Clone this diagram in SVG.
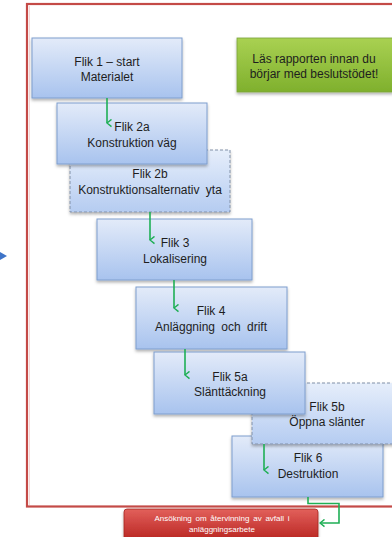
<svg xmlns="http://www.w3.org/2000/svg" width="392" height="537" viewBox="0 0 392 537">
<defs>
<linearGradient id="gBlue" x1="0" y1="0" x2="0" y2="1">
<stop offset="0" stop-color="#E3EBF9"/>
<stop offset="1" stop-color="#A8C3EE"/>
</linearGradient>
<linearGradient id="gBlueL" x1="0" y1="0" x2="0" y2="1">
<stop offset="0" stop-color="#E6EEFB"/>
<stop offset="1" stop-color="#B5CCF1"/>
</linearGradient>
<linearGradient id="gGreen" x1="0" y1="0" x2="0" y2="1">
<stop offset="0" stop-color="#A9D152"/>
<stop offset="1" stop-color="#7FB02D"/>
</linearGradient>
<linearGradient id="gRed" x1="0" y1="0" x2="0" y2="1">
<stop offset="0" stop-color="#E2605B"/>
<stop offset="1" stop-color="#B82420"/>
</linearGradient>
<filter id="sh" x="-10%" y="-10%" width="125%" height="135%">
<feDropShadow dx="0" dy="2" stdDeviation="1.5" flood-color="#000" flood-opacity="0.3"/>
</filter>
<marker id="ah" viewBox="0 0 10 10" refX="5" refY="9" markerWidth="9" markerHeight="9" markerUnits="userSpaceOnUse" orient="auto-start-reverse">
<polyline points="1,4 5,9 9,4" fill="none" stroke="#1FAF55" stroke-width="1.6"/>
</marker>
<marker id="ahl" viewBox="0 0 10 10" refX="9" refY="5" markerWidth="9" markerHeight="9" markerUnits="userSpaceOnUse" orient="auto">
<polyline points="4,1 9,5 4,9" fill="none" stroke="#1FAF55" stroke-width="1.6"/>
</marker>
</defs>
<style>
.box{fill:url(#gBlue);stroke:#7E9ECE;stroke-width:1;filter:url(#sh)}
.dbox{fill:url(#gBlueL);stroke:#8090A8;stroke-width:1;stroke-dasharray:3,2;filter:url(#sh)}
.t{font-family:"Liberation Sans",Arial,sans-serif;font-size:12px;fill:#1E1E1E;text-anchor:middle}
.tw{font-family:"Liberation Sans",Arial,sans-serif;font-size:8px;fill:#FFFFFF;text-anchor:middle}
.con{fill:none;stroke:#1FAF55;stroke-width:1.6}
</style>
<rect width="392" height="537" fill="#FFFFFF"/>
<g id="frame">
<rect x="27" y="4" width="380" height="502.5" fill="none" stroke="#C44A47" stroke-width="2.2"/>
<line x1="29.5" y1="6" x2="29.5" y2="505" stroke="#F6D8D6" stroke-width="1"/>
</g>
<g id="side-arrow">
<polygon points="0,252 7,256 0,260" fill="#3E74C8"/>
</g>
<g id="note">
<rect x="237" y="38" width="156" height="54" fill="url(#gGreen)" stroke="#7AA33A" stroke-width="0.8" filter="url(#sh)"/>
<text class="t" x="314" y="63">Läs rapporten innan du</text>
<text class="t" x="314" y="78">börjar med beslutstödet!</text>
</g>
<g id="flik1">
<rect class="box" x="32" y="38" width="150" height="60"/>
<text class="t" x="107" y="66">Flik 1 – start</text>
<text class="t" x="107" y="81">Materialet</text>
</g>
<g id="flik2b">
<rect class="dbox" x="70" y="150" width="160" height="62"/>
<text class="t" x="150" y="178">Flik 2b</text>
<text class="t" x="150" y="194" word-spacing="3">Konstruktionsalternativ yta</text>
</g>
<g id="flik2a">
<rect class="box" x="57" y="103" width="150" height="61"/>
<text class="t" x="132" y="131">Flik 2a</text>
<text class="t" x="132" y="147">Konstruktion väg</text>
</g>
<g id="flik3">
<rect class="box" x="97" y="219" width="155" height="61"/>
<text class="t" x="175" y="247">Flik 3</text>
<text class="t" x="175" y="263">Lokalisering</text>
</g>
<g id="flik4">
<rect class="box" x="136" y="287" width="151" height="62"/>
<text class="t" x="211" y="315">Flik 4</text>
<text class="t" x="211" y="331" word-spacing="3">Anläggning och drift</text>
</g>
<g id="flik6">
<rect class="box" x="232" y="436" width="151" height="61"/>
<text class="t" x="308" y="462">Flik 6</text>
<text class="t" x="308" y="478">Destruktion</text>
</g>
<g id="flik5b">
<rect class="dbox" x="252" y="383" width="150" height="61"/>
<text class="t" x="327" y="411">Flik 5b</text>
<text class="t" x="327" y="426">Öppna slänter</text>
</g>
<g id="flik5a">
<rect class="box" x="154" y="352" width="151" height="62"/>
<text class="t" x="230" y="381">Flik 5a</text>
<text class="t" x="230" y="396">Slänttäckning</text>
</g>
<g id="ansokan">
<rect x="124" y="509" width="194" height="32" rx="3" fill="url(#gRed)" stroke="#A52320" stroke-width="0.8" filter="url(#sh)"/>
<text class="tw" x="222" y="521" word-spacing="1.5">Ansökning om återvinning av avfall i</text>
<text class="tw" x="222" y="532">anläggningsarbete</text>
</g>
<g id="connectors">
<line class="con" x1="107" y1="98" x2="107" y2="123" marker-end="url(#ah)"/>
<line class="con" x1="150" y1="212" x2="150" y2="240" marker-end="url(#ah)"/>
<line class="con" x1="174" y1="280" x2="174" y2="308" marker-end="url(#ah)"/>
<line class="con" x1="185" y1="349" x2="185" y2="375" marker-end="url(#ah)"/>
<line class="con" x1="264" y1="444" x2="264" y2="470" marker-end="url(#ah)"/>
<polyline class="con" points="308,497 308,503.5 339,503.5 339,523 320,523" marker-end="url(#ahl)"/>
</g>
</svg>
